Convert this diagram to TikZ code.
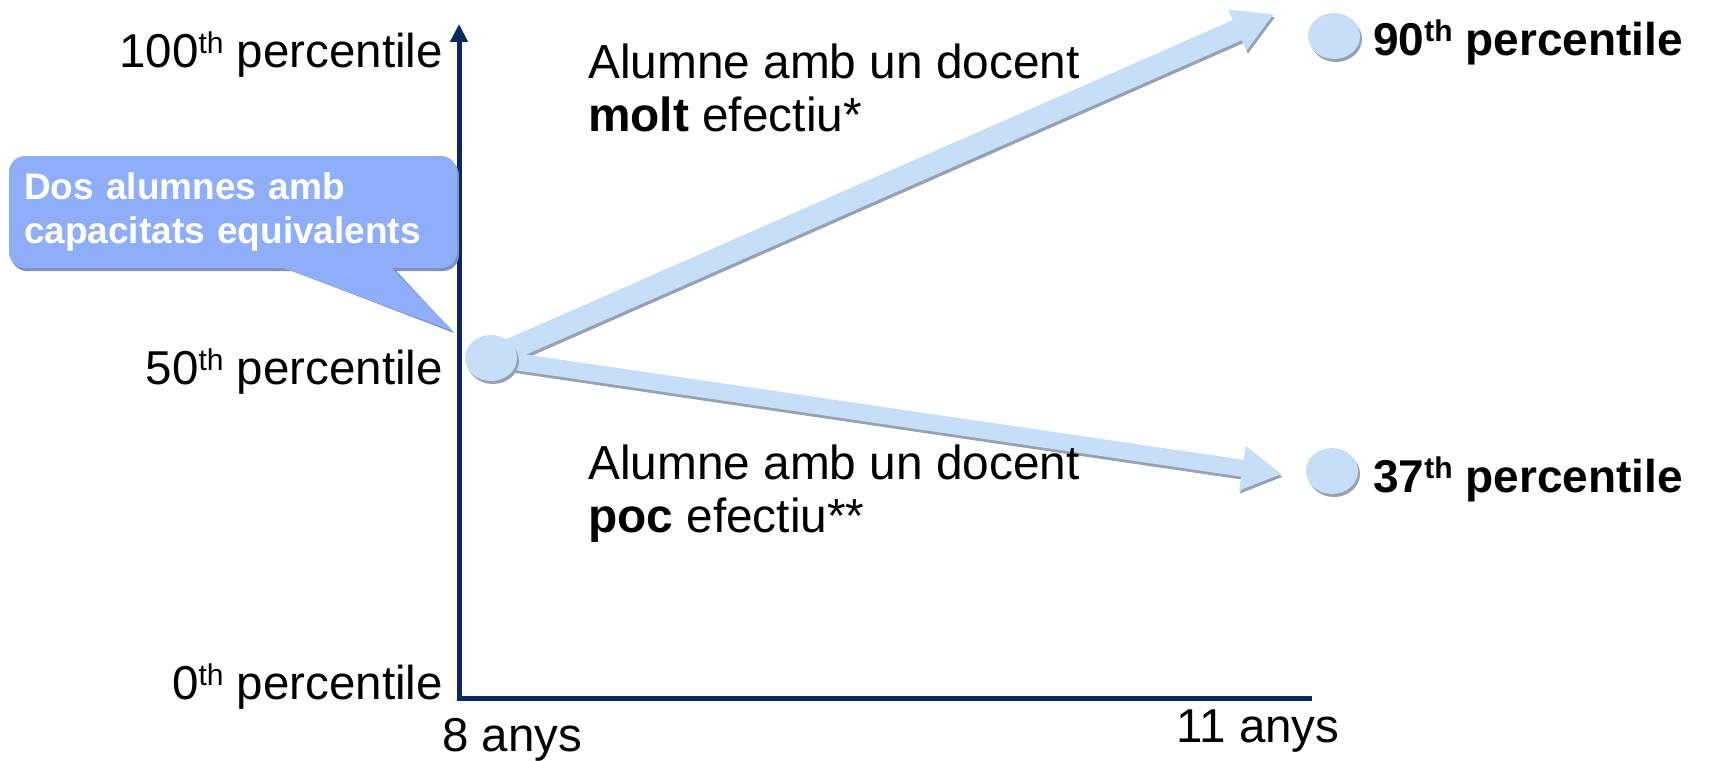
\documentclass[tikz,border=0pt]{standalone}
\usepackage{fontspec}
\setmainfont{Liberation Sans}
\usetikzlibrary{arrows.meta,shapes.geometric,calc}

\definecolor{axisblue}{RGB}{8,40,94}
\definecolor{pale}{RGB}{198,222,248}
\definecolor{shade}{RGB}{150,162,180}
\definecolor{callblue}{RGB}{143,174,250}
\definecolor{callshade}{RGB}{125,145,195}

% raised ordinal suffix ("th")
\newcommand\ordsup[1]{\raisebox{14pt}{\fontsize{30}{30}\selectfont #1}}

\begin{document}
\begin{tikzpicture}[x=1pt,y=-1pt,
  axis/.style={draw=axisblue,line width=5pt},
  lab/.style={inner sep=0pt,font=\fontsize{47.5}{53}\selectfont},
  endlab/.style={inner sep=0pt,anchor=west,font=\bfseries\fontsize{46}{53}\selectfont},
  note/.style={inner sep=0pt,anchor=west,align=left,font=\fontsize{47.8}{53}\selectfont},
  dot/.style={ellipse,fill=pale,minimum width=52pt,minimum height=46pt,inner sep=0pt},
  dotshade/.style={ellipse,fill=shade,minimum width=52pt,minimum height=46pt,inner sep=0pt},
  growth/.style={line width=#1,draw=pale,-{Triangle[width=42pt,length=40pt]}},
  growthshade/.style={line width=#1,draw=shade,-{Triangle[width=42pt,length=40pt]}},
  callbox/.style={fill=callblue,rounded corners=16pt,minimum width=448pt,minimum height=112pt,
    text width=418pt,align=left,inner sep=15pt,text=white,
    font=\bfseries\fontsize{37}{44}\selectfont}
]
\useasboundingbox (0,0) rectangle (1715,760);

% axes
\coordinate (O) at (459,698);
\coordinate (ytop) at (459,24);
\coordinate (xend) at (1312,698);
\draw[axis,{Triangle[width=17pt,length=18pt]}-] (ytop) -- (O) -- (xend);

% axis labels
\node[lab,anchor=east] (p100) at (443,55) {100\ordsup{th} percentile};
\node[lab,anchor=east] (p50) at (443,372) {50\ordsup{th} percentile};
\node[lab,anchor=east] (p0) at (443,687) {0\ordsup{th} percentile};
\node[lab] (a8) at (512,740) {8 anys};
\node[lab] (a11) at (1258,731) {11 anys};

% callout with its shadow
\fill[callshade,rounded corners=16pt] (11,159) rectangle (459,271);
\coordinate (ptr) at (453,331);
\fill[callshade] (274,264) -- ($(ptr)+(1,2)$) -- (390,264) -- cycle;
\node[callbox] (cb) at (233,212) {Dos alumnes amb\\capacitats equivalents};
\fill[callblue] ($(cb.south)+(40,-4)$) -- (ptr) -- ($(cb.south)+(155,-4)$) -- cycle;

% starting point and the two paths
\coordinate (t90) at (1274,14);
\coordinate (t37) at (1282,474);
\coordinate (s0) at (491,358);
\draw[growthshade=22pt] ($(s0)+(1.5,3)$) -- ($(t90)+(1.5,3)$);
\draw[growth=22pt] (s0) -- (t90);
\draw[growthshade=17pt] ($(s0)+(1,3)$) -- ($(t37)+(1,3)$);
\draw[growth=17pt] (s0) -- (t37);

\node[dotshade] at (493,361) {};
\node[dot] (s) at (491,358) {};
\node[dotshade] at (1336,39) {};
\node[dot] (e90) at (1334,36) {};
\node[dotshade] at (1334,474) {};
\node[dot] (e37) at (1332,471) {};

% end labels
\node[endlab] (l90) at (1373,42) {90\ordsup{th} percentile};
\node[endlab] (l37) at (1373,479) {37\ordsup{th} percentile};

% path descriptions
\node[note] (n1) at (588,88) {Alumne amb un docent\\\textbf{molt} efectiu*};
\node[note] (n2) at (588,494) {Alumne amb un docent\\\textbf{poc} efectiu**};
\end{tikzpicture}
\end{document}
